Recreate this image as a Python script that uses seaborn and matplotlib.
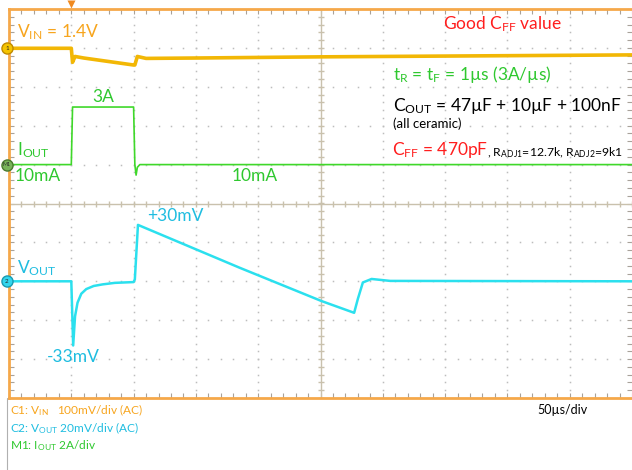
import numpy as np
import pandas as pd
import matplotlib.pyplot as plt
import seaborn as sns
from matplotlib.ticker import MultipleLocator
from matplotlib.lines import Line2D

# ------------------------------------------------------------
# Load transient scope capture (VIN / IOUT / VOUT), 50us/div
# x in microseconds, y in screen divisions (-5..5)
# ------------------------------------------------------------
t_vin = [-50, 0, 1, 3, 10, 30, 50, 51, 53, 60, 100, 200, 300, 450]
v_vin = [3.99, 3.99, 3.63, 3.78, 3.74, 3.65, 3.56, 3.56, 3.78, 3.73, 3.74, 3.77, 3.79, 3.82]

t_iout = [-50, 0, 1, 50, 51, 52, 53, 55, 450]
v_iout = [1.0, 1.0, 2.48, 2.48, 1.0, 0.73, 0.93, 1.0, 1.0]

t_vout = [-50, 0, 1.5, 3, 5, 8, 12, 18, 25, 35, 50, 51, 53.5, 135, 201, 227, 230, 234, 241, 256, 450]
v_vout = [-2.0, -2.0, -3.65, -2.9, -2.55, -2.32, -2.2, -2.12, -2.08, -2.04, -2.02, -1.95, -0.55,
          -1.65, -2.51, -2.81, -2.45, -2.03, -1.94, -1.99, -2.0]

# colours of the scope channels
C_VIN = "#F2B705"
C_VIN_TXT = "#F7A51E"
C_IOUT = "#3FD82A"
C_IOUT_TXT = "#2FC82F"
C_VOUT = "#2BE0EE"
C_VOUT_TXT = "#1FBDE0"
C_RED = "#FF1E1E"
C_FRAME = "#F5A84A"
C_GRID = "#BDBDBD"
C_CROSS = "#C9C1AD"

sns.set_style("white")
plt.rcParams["font.family"] = ["Lato", "DejaVu Sans"]
plt.rcParams["mathtext.fontset"] = "custom"
plt.rcParams["mathtext.rm"] = "Lato"
plt.rcParams["mathtext.it"] = "Lato:italic"
plt.rcParams["mathtext.bf"] = "Lato:bold"

fig = plt.figure(figsize=(6.32, 4.70), dpi=100)
ax = fig.add_axes([9 / 632, 72 / 470, 623 / 632, 389 / 470])

XMIN, XMAX = -50, 450
ax.set_xlim(XMIN, XMAX)
ax.set_ylim(-5, 5)

# -----------------------------
# Graticule: dotted division lines + centre crosshair
# -----------------------------
x_minor = np.arange(XMIN, XMAX + 0.1, 10)
y_minor = np.arange(-5, 5.01, 0.2)
for xv in np.arange(XMIN + 50, XMAX, 50):
    if xv == 200:
        continue
    ax.plot([xv] * len(y_minor), y_minor, ls="none", marker="s", ms=1.1,
            color=C_GRID, mew=0, zorder=1)
for yv in range(-4, 5):
    if yv == 0:
        continue
    ax.plot(x_minor, [yv] * len(x_minor), ls="none", marker="s", ms=1.1,
            color=C_GRID, mew=0, zorder=1)

ax.axhline(0, color=C_CROSS, lw=1.0, zorder=1)
ax.axvline(200, color=C_CROSS, lw=1.0, zorder=1)
ax.plot(x_minor, [0] * len(x_minor), ls="none", marker="|", ms=5, mew=1.0,
        color=C_CROSS, zorder=1)
ax.plot([200] * len(y_minor), y_minor, ls="none", marker="_", ms=5, mew=1.0,
        color=C_CROSS, zorder=1)

# border ticks
ax.xaxis.set_major_locator(MultipleLocator(50))
ax.xaxis.set_minor_locator(MultipleLocator(10))
ax.yaxis.set_major_locator(MultipleLocator(1))
ax.yaxis.set_minor_locator(MultipleLocator(0.2))
ax.tick_params(which="both", direction="in", top=True, right=True, bottom=True, left=True,
               length=3.5, width=0.8, color="#A8A29A",
               labelbottom=False, labelleft=False)
for side in ["left", "top", "bottom"]:
    ax.spines[side].set_color(C_FRAME)
    ax.spines[side].set_linewidth(2)
ax.spines["right"].set_visible(False)

# -----------------------------
# Traces
# -----------------------------
sns.lineplot(x=t_vin, y=v_vin, ax=ax, color=C_VIN, lw=2.6, sort=False, estimator=None, zorder=3)
sns.lineplot(x=t_iout, y=v_iout, ax=ax, color=C_IOUT, lw=1.2, sort=False, estimator=None, zorder=3)
sns.lineplot(x=t_vout, y=v_vout, ax=ax, color=C_VOUT, lw=1.8, sort=False, estimator=None, zorder=3)

# channel markers on the left edge and the trigger marker
ax.plot(-51.6, 3.99, marker="o", ms=8, mfc="#F5C400", mec="#C08A00", clip_on=False, zorder=5)
ax.text(-51.6, 3.99, "1", fontsize=4.5, ha="center", va="center", clip_on=False, zorder=6)
ax.plot(-51.6, 1.0, marker="o", ms=8, mfc="#78B35A", mec="#4A7A30", clip_on=False, zorder=5)
ax.text(-51.6, 1.0, "M1", fontsize=3.8, ha="center", va="center", clip_on=False, zorder=6)
ax.plot(-51.6, -2.0, marker="o", ms=8, mfc="#33D6EE", mec="#1A9AB0", clip_on=False, zorder=5)
ax.text(-51.6, -2.0, "2", fontsize=4.5, ha="center", va="center", clip_on=False, zorder=6)
ax.plot(0, 5.13, marker="v", ms=6, color="#F08A20", mec="none", clip_on=False, zorder=5)

# -----------------------------
# Annotations
# -----------------------------
FS = 12.5
ax.text(-43.6, 4.40, r"V$_\mathrm{IN}$ = 1.4V", color=C_VIN_TXT, fontsize=FS, va="center")
ax.text(25.4, 2.73, "3A", color=C_IOUT_TXT, fontsize=FS, va="center", ha="center")
ax.text(-43.6, 1.37, r"I$_\mathrm{OUT}$", color=C_IOUT_TXT, fontsize=FS, va="center")
ax.text(-45.2, 0.71, "10mA", color=C_IOUT_TXT, fontsize=FS, va="center")
ax.text(129, 0.71, "10mA", color=C_IOUT_TXT, fontsize=FS, va="center")
ax.text(-43.6, -1.66, r"V$_\mathrm{OUT}$", color=C_VOUT_TXT, fontsize=FS, va="center")
ax.text(-19.5, -3.94, "-33mV", color=C_VOUT_TXT, fontsize=FS, va="center")
ax.text(60.8, -0.32, "+30mV", color=C_VOUT_TXT, fontsize=FS, va="center")

ax.text(298.3, 4.61, r"Good C$_\mathrm{FF}$ value", color=C_RED, fontsize=FS, va="center")
ax.text(258.2, 3.32, r"t$_\mathrm{R}$ = t$_\mathrm{F}$ = 1µs (3A/µs)", color=C_IOUT_TXT,
        fontsize=FS, va="center")
ax.text(258.2, 2.50, r"C$_\mathrm{OUT}$ = 47µF + 10µF + 100nF", color="black",
        fontsize=FS, va="center")
ax.text(258.2, 2.04, "(all ceramic)", color="black", fontsize=9.5, va="center")
cff = ax.text(257.4, 1.37, r"C$_\mathrm{FF}$ = 470pF", color=C_RED, fontsize=FS, va="center")
ax.annotate(r", R$_\mathrm{ADJ1}$=12.7k, R$_\mathrm{ADJ2}$=9k1", xy=(1, 0), xycoords=cff,
            xytext=(-1.2, 0), textcoords="offset points", fontsize=8.8, color="black",
            va="bottom", ha="left")

# scope footer
fig.add_artist(Line2D([7 / 632, 7 / 632], [0, 72 / 470], color="#B0B0B0", lw=0.8))
FF = 8.6
fig.text(10 / 632, 1 - 410 / 470, r"C1: V$_\mathrm{IN}$   100mV/div (AC)", color=C_VIN_TXT,
         fontsize=FF, va="center")
fig.text(10 / 632, 1 - 428 / 470, r"C2: V$_\mathrm{OUT}$ 20mV/div (AC)", color=C_VOUT_TXT,
         fontsize=FF, va="center")
fig.text(10 / 632, 1 - 446 / 470, r"M1: I$_\mathrm{OUT}$ 2A/div", color=C_IOUT_TXT,
         fontsize=FF, va="center")
fig.text(537 / 632, 1 - 410 / 470, "50µs/div", color="black", fontsize=9, va="center")

fig.savefig("out.png", dpi=100)
